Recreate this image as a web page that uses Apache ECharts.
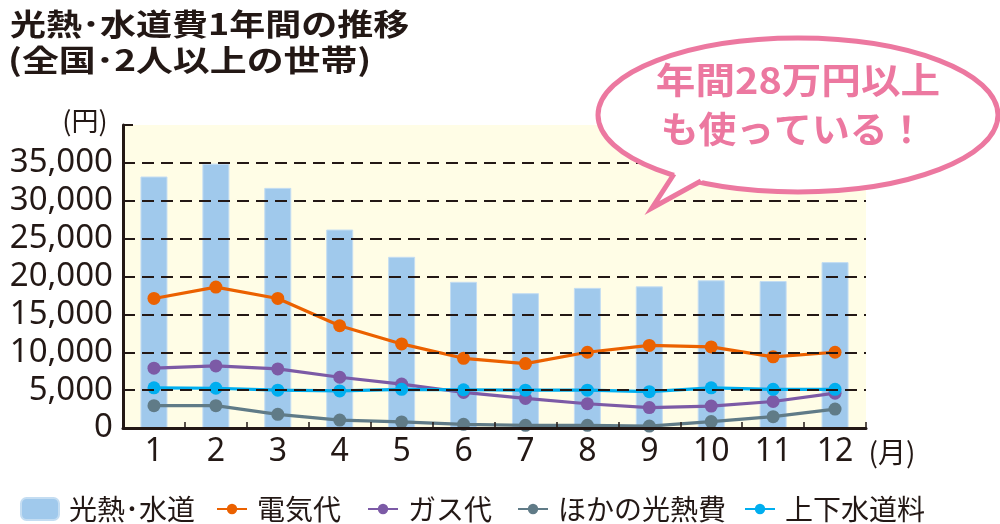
<!DOCTYPE html>
<html>
<head>
<meta charset="utf-8">
<script src="https://cdn.jsdelivr.net/npm/echarts@6/dist/echarts.min.js"></script>
<style>
html,body{margin:0;padding:0;background:#fff;}
#chart{width:1000px;height:524px;}
</style>
</head>
<body>
<div id="chart"></div>
<script>
// ---- data ----
const months = ['1','2','3','4','5','6','7','8','9','10','11','12'];
const utilitiesTotal = [33200, 34900, 31700, 26200, 22600, 19300, 17800, 18500, 18700, 19500, 19400, 21900]; // 光熱・水道
const electricity    = [17100, 18600, 17100, 13500, 11100, 9200, 8500, 10000, 10900, 10700, 9400, 10000]; // 電気代
const gas            = [7900, 8200, 7800, 6700, 5800, 4700, 3900, 3200, 2700, 2900, 3500, 4600];        // ガス代
const otherEnergy    = [2950, 2950, 1800, 1050, 800, 480, 350, 350, 260, 850, 1500, 2500];             // ほかの光熱費
const water          = [5300, 5250, 5000, 4900, 5100, 5050, 5000, 5000, 4800, 5300, 5100, 5100];       // 上下水道料
const seriesNames = ['光熱･水道', '電気代', 'ガス代', 'ほかの光熱費', '上下水道料'];
const yMin = 0, yMax = 40000, yStep = 5000;

const DARK = '#231815';
const PINK = '#ec78a0';
const colors = ['#a0c9ec', '#eb6100', '#7c5aa6', '#607b87', '#00aeef'];
const lineData = [electricity, gas, otherEnergy, water];

const chart = echarts.init(document.getElementById('chart'), null, {renderer: 'canvas'});

const legendLefts = [15, 211, 362, 512, 739];
const legends = seriesNames.map((n, i) => ({
  data: [n],
  left: legendLefts[i],
  top: 490,
  orient: 'horizontal',
  itemWidth: i === 0 ? 38 : 30,
  itemHeight: i === 0 ? 22 : 13,
  selectedMode: false,
  textStyle: {fontSize: 28, color: DARK, fontFamily: 'Noto Sans CJK JP', padding: [0, 0, 0, 5]}
}));

const series = [{
  name: seriesNames[0],
  type: 'bar',
  data: utilitiesTotal,
  barWidth: 27,
  itemStyle: {color: colors[0], borderColor: '#c4ddf2', borderWidth: 1},
  z: 2
}].concat(lineData.map((d, i) => ({
  name: seriesNames[i + 1],
  type: 'line',
  data: d,
  symbol: 'circle',
  symbolSize: 13,
  lineStyle: {width: 3.2, color: colors[i + 1]},
  itemStyle: {color: colors[i + 1]},
  z: 3 + i
})));

const option = {
  animation: false,
  backgroundColor: '#fff',
  grid: {left: 123, right: 134, top: 125, bottom: 96, containLabel: false, outerBoundsMode: 'none',
         show: true, backgroundColor: '#fffde6', borderWidth: 0},
  legend: legends,
  xAxis: {
    type: 'category',
    data: months,
    boundaryGap: true,
    z: 10,
    axisLine: {lineStyle: {color: DARK, width: 3}},
    axisTick: {show: true, inside: true, length: 6, interval: 0, lineStyle: {color: DARK, width: 1.5}},
    axisLabel: {fontSize: 32, color: DARK, fontFamily: 'Noto Sans', margin: 8, interval: 0},
    splitLine: {show: false}
  },
  yAxis: {
    type: 'value',
    min: yMin, max: yMax, interval: yStep,
    z: 10,
    axisLine: {show: true, lineStyle: {color: DARK, width: 3}},
    axisTick: {show: true, inside: true, length: 10, lineStyle: {color: DARK, width: 2}},
    axisLabel: {
      fontSize: 33, color: DARK, fontFamily: 'Noto Sans', margin: 10,
      formatter: v => v === yMax ? '' : v.toLocaleString('en-US')
    },
    splitLine: {show: true, showMaxLine: false, showMinLine: false,
                lineStyle: {color: DARK, width: 2, type: [12, 7]}}
  },
  series: series,
  graphic: [
    {type: 'text', x: 10, y: 9, scaleX: 1.2, z: 100,
     style: {text: '光熱･水道費1年間の推移', font: 'bold 30px "Noto Sans CJK JP"', fill: DARK, textAlign: 'left', textVerticalAlign: 'top'}},
    {type: 'text', x: 8, y: 45, scaleX: 1.23, z: 100,
     style: {text: '(全国･2人以上の世帯)', font: 'bold 30px "Noto Sans CJK JP"', fill: DARK, textAlign: 'left', textVerticalAlign: 'top'}},
    {type: 'text', x: 85, y: 121, z: 100,
     style: {text: '(円)', font: '27px "Noto Sans CJK JP"', fill: DARK, textAlign: 'center', textVerticalAlign: 'middle'}},
    {type: 'text', x: 892, y: 452, z: 100,
     style: {text: '(月)', font: '28px "Noto Sans CJK JP"', fill: DARK, textAlign: 'center', textVerticalAlign: 'middle'}},
    // speech bubble
    {type: 'ellipse', z: 100, shape: {cx: 798, cy: 115, rx: 200, ry: 77},
     style: {fill: '#fff', stroke: PINK, lineWidth: 5}},
    {type: 'polygon', z: 101, shape: {points: [[680, 165], [652, 208], [716, 173]]},
     style: {fill: '#fff', stroke: null}},
    {type: 'polyline', z: 102, shape: {points: [[674, 174], [652, 208], [701, 181]]},
     style: {stroke: PINK, lineWidth: 5, lineJoin: 'miter', fill: null}},
    {type: 'text', x: 798, y: 80, scaleX: 1.1, z: 103,
     style: {text: '年間28万円以上', font: 'bold 36px "Noto Sans CJK JP"', fill: PINK, textAlign: 'center', textVerticalAlign: 'middle'}},
    {type: 'text', x: 793, y: 129, scaleX: 1.05, z: 103,
     style: {text: 'も使っている！', font: 'bold 36px "Noto Sans CJK JP"', fill: PINK, textAlign: 'center', textVerticalAlign: 'middle'}}
  ]
};
chart.setOption(option);
</script>
</body>
</html>
